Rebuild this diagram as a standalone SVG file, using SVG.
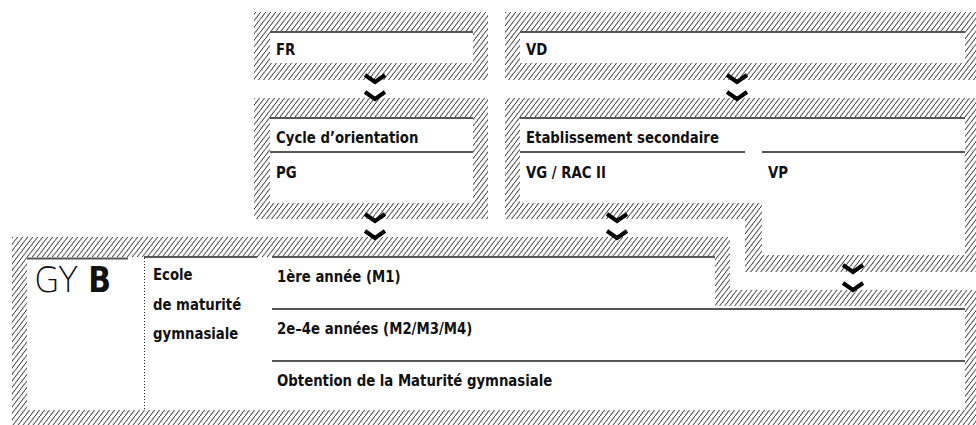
<svg xmlns="http://www.w3.org/2000/svg" width="976" height="425" viewBox="0 0 976 425">
<defs>
<pattern id="hatch" patternUnits="userSpaceOnUse" width="5" height="6.5">
<line x1="-1.25" y1="8.125" x2="6.25" y2="-1.625" stroke="#111" stroke-width="0.9"/>
</pattern>
<style>
.h{fill:url(#hatch)}
.w{fill:#fff}
.ln{stroke:#555;stroke-width:2;fill:none}
.t{font-family:"DejaVu Sans Condensed","DejaVu Sans",sans-serif;font-weight:bold;font-size:16.4px;fill:#111}
.chev{fill:none;stroke:#000;stroke-width:4;stroke-linejoin:miter}
.dot{stroke:#222;stroke-width:1;stroke-dasharray:1 2;fill:none}
</style>
</defs>
<rect width="976" height="425" fill="#fff"/>
<g id="fr">
<rect class="h" x="254" y="12" width="234" height="68"/>
<rect class="w" x="270" y="32" width="203" height="31"/>
<line class="ln" x1="270" y1="32" x2="473" y2="32"/>
<text class="t" transform="translate(276,55) scale(0.9,1)">FR</text>
</g>
<g id="vd">
<rect class="h" x="505" y="12" width="471" height="68"/>
<rect class="w" x="520" y="32" width="445" height="31"/>
<line class="ln" x1="520" y1="32" x2="965" y2="32"/>
<text class="t" transform="translate(526,55) scale(0.9,1)">VD</text>
</g>
<g id="cycle">
<rect class="h" x="254" y="98" width="234" height="121"/>
<rect class="w" x="270" y="118" width="203" height="85"/>
<line class="ln" x1="270" y1="118" x2="473" y2="118"/>
<line class="ln" x1="270" y1="152" x2="473" y2="152"/>
<text class="t" transform="translate(276,143) scale(0.9,1)">Cycle d’orientation</text>
<text class="t" transform="translate(276,178) scale(0.9,1)">PG</text>
</g>
<g id="etab">
<path class="h" d="M505 98H976V272H745V219H505Z"/>
<path class="w" d="M520 118H965V255H762V203H520Z"/>
<line class="ln" x1="520" y1="118" x2="965" y2="118"/>
<line class="ln" x1="520" y1="152" x2="745" y2="152"/>
<line class="ln" x1="762" y1="152" x2="965" y2="152"/>
<text class="t" transform="translate(526,143) scale(0.9,1)">Etablissement secondaire</text>
<text class="t" transform="translate(526,178) scale(0.9,1)">VG / RAC II</text>
<text class="t" transform="translate(768,178) scale(0.9,1)">VP</text>
</g>
<g id="gyb">
<path class="h" d="M12 237H730V290H976V425H12Z"/>
<path class="w" d="M27 257H715V306H965V410H27Z"/>
<line class="ln" x1="27" y1="258.5" x2="128" y2="258.5"/>
<line class="ln" x1="144" y1="257" x2="257" y2="257"/>
<line class="dot" x1="144.5" y1="258" x2="144.5" y2="410"/>
<text transform="translate(34,292) scale(0.95,1)" style="font-size:35px;fill:#111"><tspan x="0" style="font-family:'DejaVu Sans',sans-serif;font-weight:200">GY</tspan><tspan x="57" style="font-family:'DejaVu Sans Condensed','DejaVu Sans',sans-serif;font-weight:bold">B</tspan></text>
<text class="t" transform="translate(153,280) scale(0.9,1)">Ecole</text>
<text class="t" transform="translate(153,310) scale(0.9,1)">de maturité</text>
<text class="t" transform="translate(153,339) scale(0.9,1)">gymnasiale</text>
<line class="ln" x1="272" y1="257" x2="715" y2="257"/>
<line class="ln" x1="272" y1="309" x2="965" y2="309"/>
<line class="ln" x1="272" y1="361" x2="965" y2="361"/>
<text class="t" transform="translate(277,282) scale(0.9,1)">1ère année (M1)</text>
<text class="t" transform="translate(277,334) scale(0.9,1)">2e–4e années (M2/M3/M4)</text>
<text class="t" transform="translate(277,386) scale(0.9,1)">Obtention de la Maturité gymnasiale</text>
</g>
<g id="connectors">
<path class="chev" d="M365 75L375 82L385 75M365 92L375 99L385 92"/>
<path class="chev" d="M727 75L737 82L747 75M727 92L737 99L747 92"/>
<path class="chev" d="M365 214L375 221L385 214M365 231L375 238L385 231"/>
<path class="chev" d="M607 214L617 221L627 214M607 231L617 238L627 231"/>
<path class="chev" d="M843 265L853 272L863 265M843 283L853 290L863 283"/>
</g>
</svg>
